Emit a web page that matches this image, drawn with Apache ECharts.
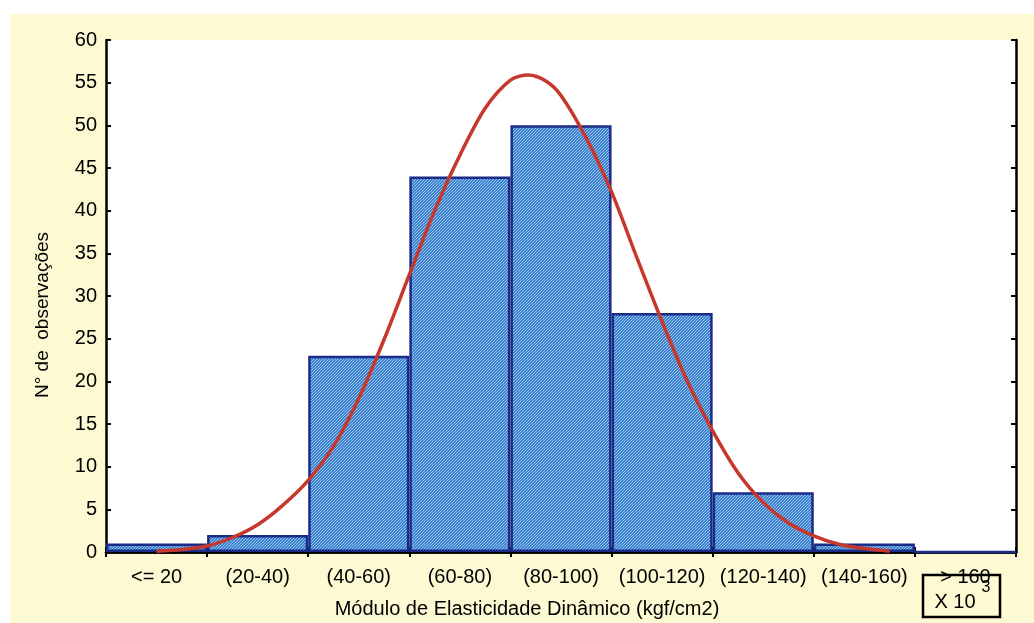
<!DOCTYPE html>
<html>
<head>
<meta charset="utf-8">
<script src="https://cdn.jsdelivr.net/npm/echarts@6/dist/echarts.min.js"></script>
<style>
  html, body { margin: 0; padding: 0; background: #ffffff; }
  #wrap { position: relative; width: 1034px; height: 623px; overflow: hidden; }
  #paper { position: absolute; left: 10px; top: 14px; right: 0; bottom: 0; background: #fcf9d3; }
  #chart { position: absolute; left: 0; top: 0; width: 1034px; height: 623px; }
</style>
</head>
<body>
<div id="wrap">
  <div id="paper"></div>
  <div id="chart"></div>
</div>
<script>
// Frequency classes (x 10^3 kgf/cm2) and observed counts
const categories = ['<= 20', '(20-40)', '(40-60)', '(60-80)', '(80-100)', '(100-120)', '(120-140)', '(140-160)', '> 160'];
const counts = [1, 2, 23, 44, 50, 28, 7, 1, 0];

// Fitted normal curve, sampled along the modulus scale (0-180)
const curveX = [10, 15, 20, 25, 30, 35, 40, 45, 50, 55, 60, 65, 70, 75, 80, 83.5, 87, 90, 95, 100, 105, 110, 115, 120, 125, 130, 135, 140, 145, 150, 155];
const curveY = [0.1, 0.3, 0.7, 1.7, 3.2, 5.5, 8.4, 12.4, 18.0, 24.9, 32.5, 40.0, 46.5, 52.0, 55.3, 55.9, 55.2, 53.5, 48.5, 42.2, 34.5, 27.0, 20.0, 14.2, 9.3, 5.8, 3.4, 1.9, 0.9, 0.4, 0.1];

// Y axis ticks
const yMin = 0, yMax = 60, yStep = 5;

const FONT = 'Liberation Sans, Arial, sans-serif';

// Diagonal hatch tile for the bars
function hatchTile() {
  const n = 3;
  const c = document.createElement('canvas');
  c.width = n; c.height = n;
  const ctx = c.getContext('2d');
  const img = ctx.createImageData(n, n);
  for (let y = 0; y < n; y++) {
    for (let x = 0; x < n; x++) {
      const i = (y * n + x) * 4;
      const light = (x + y) % n === 0;
      const col = light ? [150, 198, 242] : [62, 128, 204];
      img.data[i] = col[0]; img.data[i + 1] = col[1]; img.data[i + 2] = col[2]; img.data[i + 3] = 255;
    }
  }
  ctx.putImageData(img, 0, 0);
  return c;
}

const curveData = curveX.map((x, i) => [x, curveY[i]]);

const chart = echarts.init(document.getElementById('chart'), null, { renderer: 'canvas' });

const frame = { show: true, lineStyle: { color: '#000', width: 2.5 } };
const tickIn = { show: true, inside: true, length: 5, lineStyle: { color: '#000', width: 2 } };

chart.setOption({
  animation: false,
  backgroundColor: 'transparent',
  grid: { left: 106, right: 18, top: 40, bottom: 71, show: true, backgroundColor: '#ffffff', borderWidth: 0 },
  xAxis: [
    {
      type: 'category', data: categories, position: 'bottom', boundaryGap: true,
      axisLine: frame, axisTick: tickIn,
      axisLabel: { color: '#000', fontFamily: FONT, fontSize: 20, margin: 15, interval: 0 }
    },
    {
      type: 'category', data: categories, position: 'top', boundaryGap: true,
      axisLine: frame, axisTick: tickIn, axisLabel: { show: false }
    },
    {
      type: 'value', min: 0, max: 180, show: false
    }
  ],
  yAxis: [
    {
      type: 'value', min: yMin, max: yMax, interval: yStep, position: 'left',
      axisLine: frame, axisTick: tickIn, splitLine: { show: false },
      axisLabel: { color: '#000', fontFamily: FONT, fontSize: 20, margin: 9 }
    },
    {
      type: 'value', min: yMin, max: yMax, interval: yStep, position: 'right',
      axisLine: frame, axisTick: tickIn, splitLine: { show: false },
      axisLabel: { show: false }
    }
  ],
  series: [
    {
      type: 'bar', xAxisIndex: 0, yAxisIndex: 0, data: counts,
      barCategoryGap: '0%',
      itemStyle: {
        color: { image: hatchTile(), repeat: 'repeat' },
        borderColor: '#1b2c86', borderWidth: 2.5
      },
      z: 2
    },
    {
      type: 'line', xAxisIndex: 2, yAxisIndex: 0, data: curveData,
      smooth: 0.3, symbol: 'none',
      lineStyle: { color: '#c6372c', width: 3.5 },
      z: 3
    }
  ],
  graphic: [
    {
      type: 'text', x: 43, y: 315, rotation: Math.PI / 2,
      style: { text: 'N° de  observações', font: '19px ' + FONT, fill: '#000', align: 'center', verticalAlign: 'middle' }
    },
    {
      type: 'text', x: 527, y: 609,
      style: { text: 'Módulo de Elasticidade Dinâmico (kgf/cm2)', font: '20px ' + FONT, fill: '#000', align: 'center', verticalAlign: 'middle' }
    },
    {
      type: 'group', z: 100,
      children: [
        { type: 'rect', shape: { x: 923, y: 575, width: 77, height: 42 }, style: { fill: '#fcf9d3', stroke: '#000', lineWidth: 2.5 } },
        { type: 'text', x: 955, y: 602, style: { text: 'X 10', font: '20px ' + FONT, fill: '#000', align: 'center', verticalAlign: 'middle' } },
        { type: 'text', x: 986, y: 588, style: { text: '3', font: '16px ' + FONT, fill: '#000', align: 'center', verticalAlign: 'middle' } }
      ]
    }
  ]
});
</script>
</body>
</html>
